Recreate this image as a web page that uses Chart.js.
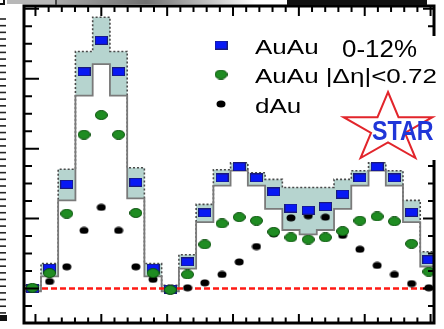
<!DOCTYPE html>
<html><head><meta charset="utf-8">
<script src="https://cdn.jsdelivr.net/npm/chart.js@4.4.0/dist/chart.umd.min.js"></script>
<style>html,body{margin:0;padding:0;background:#fff;overflow:hidden}canvas{display:block}</style>
</head><body>
<canvas id="c" width="444" height="329"></canvas>
<script>
// Δφ bin centres (rad)
const dphi = [-1.047,-0.785,-0.524,-0.262,0.000,0.262,0.524,0.785,1.047,1.309,1.571,1.833,
              2.094,2.356,2.618,2.880,3.142,3.403,3.665,3.927,4.189,4.451,4.712,4.974];
// AuAu 0-12% (blue squares)
const auauCentral = [0.00,0.29,1.49,3.10,3.55,3.10,1.52,0.29,-0.01,0.38,1.08,1.58,
                     1.74,1.58,1.38,1.15,1.12,1.17,1.35,1.58,1.74,1.58,1.09,0.41];
// AuAu |Δη|<0.72 (green circles)
const auauNarrow = [0.01,0.22,1.07,2.20,2.48,2.20,1.08,0.22,-0.02,0.20,0.63,0.93,
                    1.02,0.97,0.81,0.73,0.70,0.73,0.82,0.97,1.03,0.96,0.64,0.24];
// dAu (black circles)
const dAu = [0.00,0.10,0.31,0.83,1.16,0.83,0.31,0.13,0.00,0.01,0.08,0.20,
             0.38,0.60,0.78,1.01,1.04,1.02,0.76,0.56,0.33,0.20,0.07,0.01];
// AuAu systematic band (upper / lower edge)
const sysHigh = [0.045,0.356,1.705,3.39,3.88,3.39,1.726,0.356,0.045,0.483,1.203,1.698,
                 1.797,1.655,1.56,1.443,1.443,1.443,1.56,1.684,1.797,1.684,1.26,0.525];
const sysLow  = [-0.04,0.172,1.26,2.757,3.209,2.757,1.288,0.172,-0.04,0.285,0.949,1.472,
                 1.684,1.472,1.137,0.836,0.774,0.836,1.137,1.472,1.684,1.472,0.949,0.314];
const refLevel = 0;
const seriesLabels = ['AuAu', 'AuAu |\u0394\u03b7|<0.72', 'dAu'];
const centralityLabel = '0-12%';
const logoText = 'STAR';
const xRange = [-1.174, 5.052];
const yRange = [-0.494, 4.04];

function markerCanvas(w, h, shape, fill, stroke) {
  const c = document.createElement('canvas');
  c.width = w; c.height = h;
  const g = c.getContext('2d');
  g.fillStyle = fill;
  if (shape === 'rect') {
    g.fillRect(0, 0, w, h);
    if (stroke) { g.strokeStyle = stroke; g.lineWidth = 1; g.strokeRect(0.5, 0.5, w - 1, h - 1); }
  } else {
    g.beginPath();
    g.ellipse(w / 2, h / 2, w / 2 - 0.5, h / 2 - 0.5, 0, 0, Math.PI * 2);
    g.fill();
    if (stroke) { g.strokeStyle = stroke; g.lineWidth = 1; g.stroke(); }
  }
  return c;
}
const mkBlue = markerCanvas(13, 9, 'rect', '#0818f4', '#1a1a7a');
const mkGreen = markerCanvas(13, 10, 'ellipse', '#1f8c22', '#0c4f0e');
const mkBlack = markerCanvas(10, 8, 'ellipse', '#000000', null);

const halfW = (dphi[1] - dphi[0]) / 2;
function stepPts(vals) {
  const pts = dphi.map((c, i) => ({ x: c - halfW, y: vals[i] }));
  pts.push({ x: dphi[dphi.length - 1] + halfW, y: vals[vals.length - 1] });
  return pts;
}
const pts = vals => dphi.map((c, i) => ({ x: c, y: vals[i] }));

const decorPlugin = {
  id: 'decor',
  afterDatasetsDraw(chart) {
    const { ctx, chartArea: a, scales: { x, y } } = chart;
    ctx.save();
    // inward ticks
    ctx.strokeStyle = '#000';
    ctx.lineWidth = 2;
    for (let k = Math.ceil(xRange[0] * 5); k <= Math.floor(xRange[1] * 5); k++) {
      const px = x.getPixelForValue(k / 5);
      const major = k % 5 === 0;
      ctx.beginPath();
      ctx.moveTo(px, a.bottom); ctx.lineTo(px, a.bottom - (major ? 9 : 5.5));
      ctx.moveTo(px, a.top); ctx.lineTo(px, a.top + (major ? 10 : 6));
      ctx.stroke();
    }
    for (let k = Math.ceil(yRange[0] * 4); k <= Math.floor(yRange[1] * 4); k++) {
      const py = y.getPixelForValue(k / 4);
      const major = k % 4 === 0;
      ctx.beginPath();
      ctx.moveTo(a.left, py); ctx.lineTo(a.left + (major ? 15 : 8), py);
      ctx.moveTo(a.right, py); ctx.lineTo(a.right - (major ? 11 : 6), py);
      ctx.stroke();
    }
    ctx.lineWidth = 3;
    ctx.strokeRect(a.left, a.top, a.right - a.left, a.bottom - a.top);

    // pasted legend box (hides right axis part)
    ctx.fillStyle = '#fff';
    ctx.fillRect(405, 36, 39, 124);

    // legend
    const imgs = [mkBlue, mkGreen, mkBlack];
    const rowsY = [45, 74.5, 104];
    const base = [53.5, 82.5, 113];
    ctx.fillStyle = '#000';
    ctx.font = '20px "Liberation Sans", Arial, sans-serif';
    ctx.textBaseline = 'alphabetic';
    imgs.forEach((im, i) => {
      ctx.drawImage(im, 221 - im.width / 2, rowsY[i] - im.height / 2);
      ctx.save();
      ctx.translate(255, base[i]);
      ctx.scale(1.3, 1);
      ctx.fillText(seriesLabels[i], 0, 0);
      ctx.restore();
    });
    ctx.save();
    ctx.font = '24px "Liberation Sans", Arial, sans-serif';
    ctx.translate(342, 56.5);
    ctx.scale(1.08, 1);
    ctx.fillText(centralityLabel, 0, 0);
    ctx.restore();

    // STAR logo
    const cx = 388, cy = 128.5, R = 36.5, r = R * 0.382, sx = 1.28;
    ctx.beginPath();
    for (let i = 0; i < 10; i++) {
      const ang = -Math.PI / 2 + i * Math.PI / 5;
      const rr = i % 2 === 0 ? R : r;
      const px = cx + Math.cos(ang) * rr * sx, py = cy + Math.sin(ang) * rr;
      if (i === 0) ctx.moveTo(px, py); else ctx.lineTo(px, py);
    }
    ctx.closePath();
    ctx.fillStyle = '#fff';
    ctx.fill();
    ctx.strokeStyle = '#e2252b';
    ctx.lineWidth = 2;
    ctx.stroke();
    ctx.save();
    ctx.fillStyle = '#2036d8';
    ctx.font = 'bold 27px "Liberation Sans", Arial, sans-serif';
    ctx.translate(372, 140);
    ctx.scale(0.86, 1);
    ctx.fillText(logoText, 0, 0);
    ctx.restore();

    // cropped-figure remnants along the edges
    const grad = ctx.createLinearGradient(57, 0, 255, 0);
    grad.addColorStop(0, '#a8a8a8');
    grad.addColorStop(0.45, '#707070');
    grad.addColorStop(1, '#ffffff');
    ctx.fillStyle = grad;
    ctx.fillRect(57, 0, 198, 4);
    ctx.fillStyle = '#b8b8b8';
    ctx.fillRect(7, 0, 48, 4);
    ctx.fillStyle = '#444';
    ctx.fillRect(55, 0, 2, 5);
    ctx.fillStyle = '#111';
    ctx.fillRect(287, 0, 140, 5);
    ctx.fillRect(0, 3, 4, 2);
    ctx.fillRect(3, 0, 2, 5);
    ctx.strokeStyle = '#222';
    ctx.lineWidth = 1.6;
    for (let ty = 19; ty < 313; ty += 6.68) {
      ctx.beginPath(); ctx.moveTo(0, ty); ctx.lineTo(6, ty); ctx.stroke();
    }
    ctx.fillRect(0, 315, 7, 6);
    ctx.restore();
  }
};

new Chart(document.getElementById('c'), {
  type: 'line',
  data: {
    datasets: [
      { label: 'sysHigh', data: stepPts(sysHigh), stepped: 'before', borderColor: '#4a4a4a',
        borderWidth: 1.6, borderDash: [2, 2], pointRadius: 0, fill: '+1',
        backgroundColor: '#b6d4cf', order: 6 },
      { label: 'sysLow', data: stepPts(sysLow), stepped: 'before', borderColor: '#7a7a7a',
        borderWidth: 1.8, pointRadius: 0, fill: false, order: 5 },
      { label: 'ref', data: [{ x: xRange[0], y: refLevel }, { x: xRange[1], y: refLevel }],
        borderColor: '#ff1a14', borderWidth: 2.6, borderDash: [6, 3], pointRadius: 0,
        fill: false, order: 4 },
      { label: seriesLabels[2], data: pts(dAu), showLine: false, pointStyle: mkBlack,
        pointRadius: 5, order: 3 },
      { label: seriesLabels[0], data: pts(auauCentral), showLine: false, pointStyle: mkBlue,
        pointRadius: 5, order: 2 },
      { label: seriesLabels[1], data: pts(auauNarrow), showLine: false, pointStyle: mkGreen,
        pointRadius: 5, order: 1 }
    ]
  },
  options: {
    responsive: false,
    animation: false,
    events: [],
    devicePixelRatio: 1,
    layout: { padding: { left: 24, top: 6, right: 10, bottom: 2 } },
    plugins: { legend: { display: false }, tooltip: { enabled: false } },
    scales: {
      x: { type: 'linear', min: xRange[0], max: xRange[1], display: false },
      y: { type: 'linear', min: yRange[0], max: yRange[1], display: false }
    }
  },
  plugins: [decorPlugin]
});
</script>
</body></html>
